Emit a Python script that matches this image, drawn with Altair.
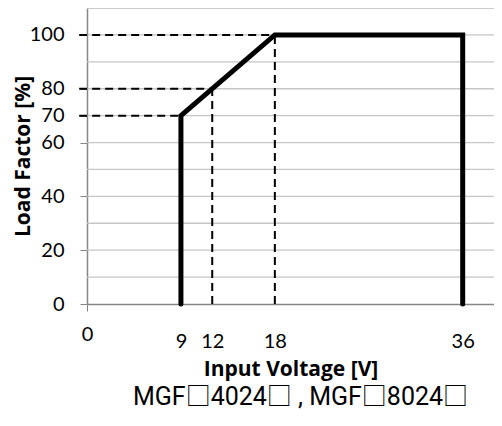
import altair as alt
import pandas as pd

# main derating curve
curve_x = [9, 9, 18, 36, 36]
curve_y = [0, 70, 100, 100, 0]

# dashed reference lines
ref_x = [-0.75, -0.75, -0.75, 12, 18]
ref_x2 = [18, 12, 9, 12, 18]
ref_y = [100, 80, 70, 0, 0]
ref_y2 = [100, 80, 70, 80, 100]

x_ticks = [0, 9, 12, 18, 36]
y_grid = [10, 20, 30, 40, 50, 60, 70, 80, 90, 100, 110]
y_labels = [0, 20, 40, 60, 70, 80, 100]

curve = pd.DataFrame({"x": curve_x, "y": curve_y, "o": list(range(len(curve_x)))})
refs = pd.DataFrame({"x": ref_x, "x2": ref_x2, "y": ref_y, "y2": ref_y2})
grid = pd.DataFrame({"y": y_grid})

FONT = "Lato"
TFONT = "Open Sans"

xscale = alt.Scale(domain=[0, 39], nice=False, zero=False)
yscale = alt.Scale(domain=[0, 110], nice=False)

xaxis = alt.Axis(
    values=x_ticks, title="Input Voltage [V]", grid=False,
    labelFont=FONT, labelFontSize=20, labelColor="black",
    labelPadding={"condition": {"test": "datum.value == 0", "value": 13}, "value": 20},
    labelFlush=False, labelOverlap=False,
    tickSize=7, tickColor="#868686",
    tickOpacity={"condition": {"test": "datum.value == 0", "value": 1}, "value": 0},
    domainColor="#868686", domainWidth=1.5,
    titleFont=TFONT, titleFontSize=21, titleFontWeight="bold", titleColor="black",
    titlePadding=7,
)
yaxis = alt.Axis(
    values=y_labels, title="Load Factor [%]", grid=False,
    labelFont=FONT, labelFontSize=20, labelColor="black", labelPadding=16,
    labelFlush=False, labelOverlap=False,
    tickSize=7, tickColor="#868686",
    domainColor="#868686", domainWidth=1.5,
    titleFont=TFONT, titleFontSize=21, titleFontWeight="bold", titleColor="black",
    titleX=-64, titleBaseline="middle",
)

gridlines = alt.Chart(grid).mark_rule(color="#c6c6c6", strokeWidth=1.3).encode(
    y=alt.Y("y:Q", scale=yscale, axis=yaxis),
)

dashed = alt.Chart(refs).mark_rule(color="black", strokeWidth=2, strokeDash=[8, 5]).encode(
    x=alt.X("x:Q", scale=xscale, axis=xaxis),
    x2="x2:Q",
    y=alt.Y("y:Q", scale=yscale, axis=yaxis),
    y2="y2:Q",
)

line = alt.Chart(curve).mark_line(color="black", strokeWidth=5, strokeCap="round", strokeJoin="miter").encode(
    x=alt.X("x:Q", scale=xscale, axis=xaxis),
    y=alt.Y("y:Q", scale=yscale, axis=yaxis),
    order="o:Q",
)

chart = alt.layer(gridlines, dashed, line).properties(
    width=407, height=296,
    autosize=alt.AutoSizeParams(type="none"),
    padding={"left": 79, "top": 0, "right": 0, "bottom": 108},
    title=alt.TitleParams(
        text="MGF□4024□ , MGF□8024□", orient="bottom", font="Roboto, 'Noto Sans CJK JP', sans-serif",
        fontSize=25, fontWeight="normal", color="black", frame="group", anchor="middle",
        offset=6, dx=10,
    ),
).configure_view(stroke=None).configure(background="white")

chart.save("out.html", embed_options={"renderer": "svg", "actions": False})
